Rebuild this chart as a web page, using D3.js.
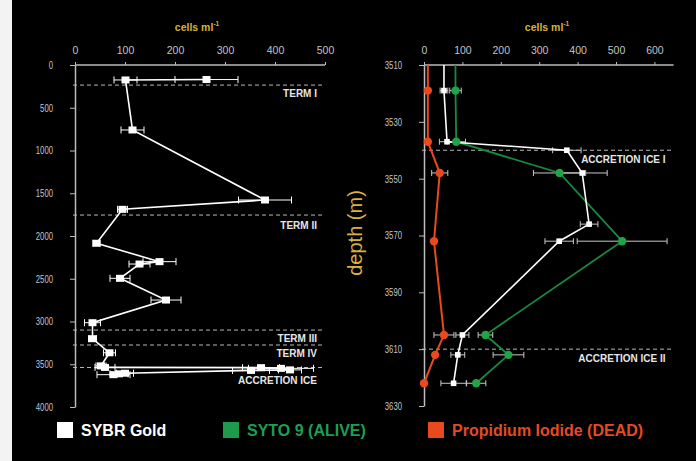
<!DOCTYPE html>
<html>
<head>
<meta charset="utf-8">
<script src="https://cdn.jsdelivr.net/npm/d3@7"></script>
<style>
  html, body { margin: 0; padding: 0; background: #000; }
  svg { display: block; }
</style>
</head>
<body>
<svg id="chart" width="696" height="461"></svg>
<script>
// Glacial ice profile (SYBR Gold counts, cells per ml) — depth in metres
const glacialDepth = [170, 175, 760, 1579, 1688, 2085, 2300, 2328, 2495, 2749, 3014, 3201, 3366];
const glacialSybr  = [263, 101, 115, 380, 95, 43, 169, 129, 90, 182, 35, 35, 69];
const glacialErr   = [63, 23, 23, 53, 10, 7, 33, 21, 20, 30, 16, 8, 12];

// Accretion ice, SYBR Gold (total cells)
const sybrDepth = [3519, 3537, 3540, 3548, 3566, 3572, 3605, 3612, 3622];
const sybrValue = [52, 60, 372, 412, 430, 352, 100, 88, 77];
const sybrErr   = [10, 20, 37, 65, 23, 37, 17, 18, 33];

// Accretion ice, SYTO 9 (live) and propidium iodide (dead)
const stainDepth = [3519, 3537, 3548, 3572, 3605, 3612, 3622];
const syto9Value = [82, 84, 353, 516, 160, 220, 136];
const syto9Err   = [15, 24, 68, 117, 19, 40, 25];
const piValue    = [10, 10, 41, 26, 52, 29, 0];
const piErr      = [0, 0, 21, 0, 26, 0, 0];

// Ice-type boundaries
const leftZones  = ["TERM I", "TERM II", "TERM III", "TERM IV", "ACCRETION ICE"];
const leftZoneDepth = [235, 1755, 3100, 3275, 3538];
const rightZones = ["ACCRETION ICE I", "ACCRETION ICE II"];
const rightZoneDepth = [3540, 3610];

const leftTicksX = [0, 100, 200, 300, 400, 500];
const leftTicksY = [0, 500, 1000, 1500, 2000, 2500, 3000, 3500, 4000];
const rightTicksX = [0, 100, 200, 300, 400, 500, 600];
const rightTicksY = [3510, 3530, 3550, 3570, 3590, 3610, 3630];

const legendLabels = ["SYBR Gold", "SYTO 9 (ALIVE)", "Propidium Iodide (DEAD)"];

const C = {
  axis: "#bdbdbd", tick: "#c4c4c4", gold: "#d8b23c",
  white: "#ffffff", green: "#1d9a4c", greenLine: "#178a40",
  red: "#e84a1e", redText: "#e34b24", err: "#c8c8c8", dash: "#b8b8b8"
};
const FONT = "'Liberation Sans', Arial, sans-serif";
const plain = d3.format("d");

const svg = d3.select("#chart");
svg.append("rect").attr("width", 696).attr("height", 461).attr("fill", "#000");
svg.append("rect").attr("width", 12).attr("height", 461).attr("fill", "#f3f3f3");

const zip = (d, v, e) => d.map((dep, i) => ({ depth: dep, value: v[i], err: e[i] }));

// ---------- shared helpers ----------
function drawAxes(g, x, y, ticksX, ticksY) {
  const ax = g.append("g").attr("transform", `translate(0,${y.range()[0]})`)
    .call(d3.axisTop(x).tickValues(ticksX).tickFormat(plain).tickSize(3).tickPadding(8).tickSizeOuter(0));
  ax.select(".domain").attr("stroke", C.axis).attr("stroke-width", 1.5)
    .attr("d", `M${x.range()[0]},0H${x.range()[1]}`);
  ax.selectAll(".tick line").attr("stroke", C.axis);
  ax.selectAll(".tick text").attr("fill", C.tick).attr("font-size", 10.5).attr("font-family", FONT);

  const ay = g.append("g").attr("transform", `translate(${x.range()[0]},0)`)
    .call(d3.axisLeft(y).tickValues(ticksY).tickFormat(plain).tickSize(5).tickPadding(17).tickSizeOuter(0));
  ay.select(".domain").attr("stroke", C.axis).attr("stroke-width", 1.5);
  ay.selectAll(".tick line").attr("stroke", C.axis);
  ay.selectAll(".tick text").attr("fill", C.tick).attr("font-size", 10.5).attr("font-family", FONT)
    .attr("textLength", d => String(d).length * 4.3).attr("lengthAdjust", "spacingAndGlyphs");
}

function drawZones(g, x, y, names, depths, offsets) {
  names.forEach((name, i) => {
    const yy = y(depths[i]);
    g.append("line").attr("x1", x.range()[0] - 2).attr("x2", x.range()[1])
      .attr("y1", yy).attr("y2", yy)
      .attr("stroke", C.dash).attr("stroke-width", 1).attr("stroke-dasharray", "4,3");
    g.append("text").attr("x", x.range()[1] - 8).attr("y", yy + offsets[i])
      .attr("text-anchor", "end").attr("fill", "#e6e6e6")
      .attr("font-family", FONT).attr("font-weight", "bold").attr("font-size", 10)
      .text(name);
  });
}

function drawErrors(g, x, y, data, color, cap) {
  const eg = g.append("g").attr("stroke", color).attr("stroke-width", 1);
  data.filter(d => d.err > 0).forEach(d => {
    const yy = y(d.depth), x0 = x(Math.max(0, d.value - d.err)), x1 = x(d.value + d.err);
    eg.append("line").attr("x1", x0).attr("x2", x1).attr("y1", yy).attr("y2", yy);
    eg.append("line").attr("x1", x0).attr("x2", x0).attr("y1", yy - cap).attr("y2", yy + cap);
    eg.append("line").attr("x1", x1).attr("x2", x1).attr("y1", yy - cap).attr("y2", yy + cap);
  });
}

function cellsLabel(g, cx) {
  const t = g.append("text").attr("x", cx).attr("y", 31).attr("text-anchor", "middle")
    .attr("fill", C.gold).attr("font-family", FONT).attr("font-weight", "bold").attr("font-size", 10.5);
  t.append("tspan").text("cells ml");
  t.append("tspan").attr("dy", -5).attr("font-size", 6.5).text("-1");
}

// ---------- left panel: full ice core ----------
const left = svg.append("g");
const xL = d3.scaleLinear().domain([0, 500]).range([75, 325]);
const yL = d3.scaleLinear().domain([0, 4000]).range([65, 407]);
drawAxes(left, xL, yL, leftTicksX, leftTicksY);
cellsLabel(left, 197);
drawZones(left, xL, yL, leftZones, leftZoneDepth, [12, 14, 12, 12, 17]);

const fullSybr = zip(glacialDepth, glacialSybr, glacialErr).concat(zip(sybrDepth, sybrValue, sybrErr));
drawErrors(left, xL, yL, fullSybr, C.white, 3.5);
left.append("path").datum(fullSybr)
  .attr("fill", "none").attr("stroke", C.white).attr("stroke-width", 1.6)
  .attr("d", d3.line().x(d => xL(d.value)).y(d => yL(d.depth)));
left.selectAll("rect.pt").data(fullSybr).join("rect").attr("class", "pt")
  .attr("x", d => xL(d.value) - 4).attr("y", d => yL(d.depth) - 3.5)
  .attr("width", 8).attr("height", 7).attr("fill", C.white);

// ---------- right panel: accretion ice detail ----------
const right = svg.append("g");
const xR = d3.scaleLinear().domain([0, 650]).range([424, 673.6]);
const yR = d3.scaleLinear().domain([3510, 3630]).range([65, 406]);
drawAxes(right, xR, yR, rightTicksX, rightTicksY);
cellsLabel(right, 547);
drawZones(right, xR, yR, rightZones, rightZoneDepth, [13, 13]);

// profile lines continue up to the top of the panel at the shallowest value
function profile(data) {
  return [{ depth: yR.domain()[0], value: data[0].value }].concat(data);
}
const lineR = d3.line().x(d => xR(d.value)).y(d => yR(d.depth));

const sybr = zip(sybrDepth, sybrValue, sybrErr);
const syto = zip(stainDepth, syto9Value, syto9Err);
const pi   = zip(stainDepth, piValue, piErr);

drawErrors(right, xR, yR, syto, C.err, 3);
drawErrors(right, xR, yR, sybr, C.err, 3);
drawErrors(right, xR, yR, pi, C.err, 3);

right.append("path").datum(profile(syto)).attr("fill", "none")
  .attr("stroke", C.greenLine).attr("stroke-width", 1.8).attr("d", lineR);
right.append("path").datum(profile(sybr)).attr("fill", "none")
  .attr("stroke", C.white).attr("stroke-width", 1.6).attr("d", lineR);
right.append("path").datum(profile(pi)).attr("fill", "none")
  .attr("stroke", C.red).attr("stroke-width", 2).attr("d", lineR);

right.selectAll("circle.syto").data(syto).join("circle").attr("class", "syto")
  .attr("cx", d => xR(d.value)).attr("cy", d => yR(d.depth)).attr("r", 4.2).attr("fill", "#1fa446");
right.selectAll("circle.pi").data(pi).join("circle").attr("class", "pi")
  .attr("cx", d => xR(d.value)).attr("cy", d => yR(d.depth)).attr("r", 4.2).attr("fill", C.red);
right.selectAll("rect.sq").data(sybr).join("rect").attr("class", "sq")
  .attr("x", d => xR(d.value) - 2.8).attr("y", d => yR(d.depth) - 2.8)
  .attr("width", 5.6).attr("height", 5.6).attr("fill", C.white);

// depth axis title
svg.append("text").attr("transform", "translate(362,233) rotate(-90)")
  .attr("text-anchor", "middle").attr("fill", C.gold)
  .attr("font-family", FONT).attr("font-size", 20).text("depth (m)");

// ---------- legend ----------
const legendX = [57, 223, 428];
const legendFill = [C.white, C.green, C.red];
const legendText = [C.white, "#1e9e52", C.redText];
const lg = svg.append("g");
legendLabels.forEach((name, i) => {
  lg.append("rect").attr("x", legendX[i]).attr("y", 422).attr("width", 16).attr("height", 16)
    .attr("fill", legendFill[i]);
  lg.append("text").attr("x", legendX[i] + 24).attr("y", 436)
    .attr("fill", legendText[i]).attr("font-family", FONT).attr("font-weight", "bold")
    .attr("font-size", 16).text(name);
});
</script>
</body>
</html>
